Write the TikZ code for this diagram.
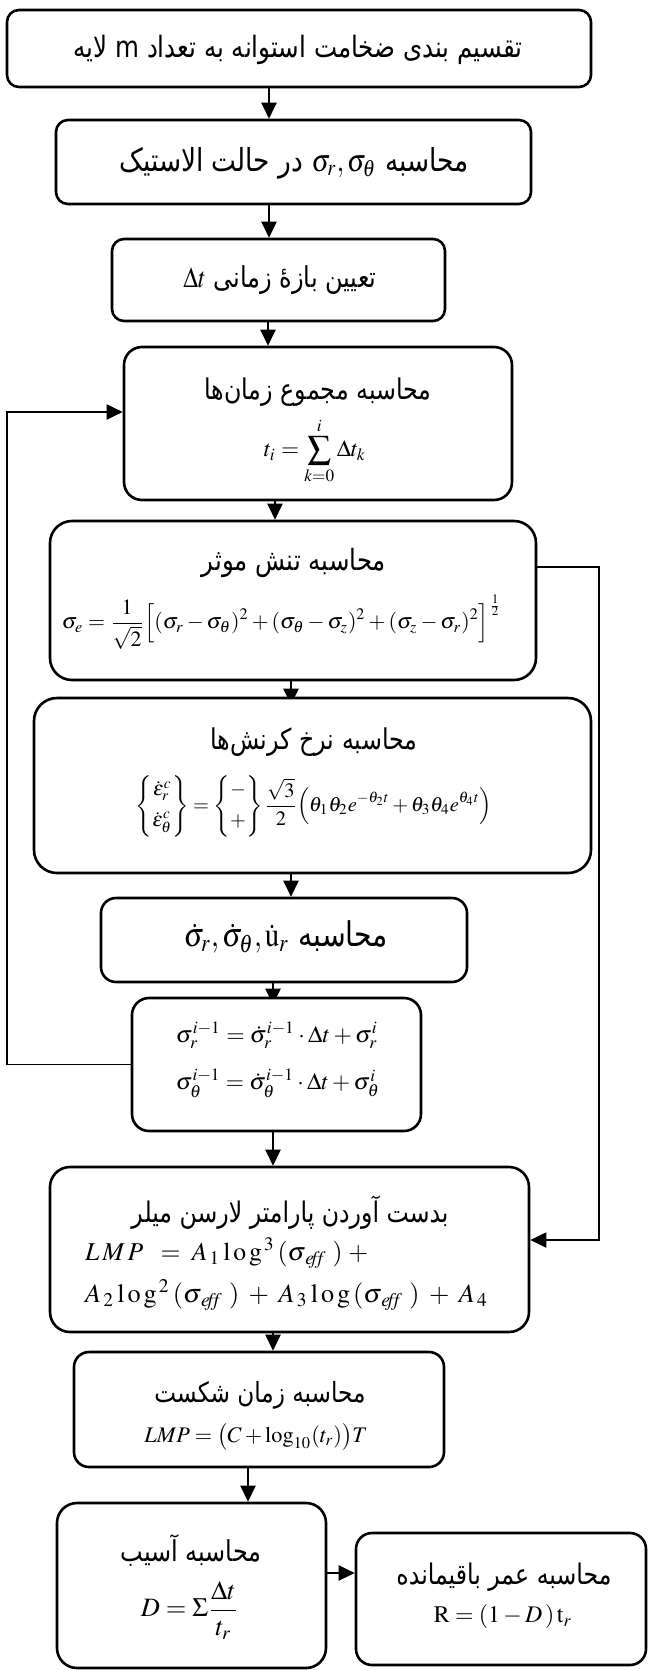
\documentclass[tikz,border=0pt]{standalone}
\usepackage{amsmath}
\usepackage{mathptmx}
\usepackage[no-math]{fontspec}
\usepackage{graphicx}
\usetikzlibrary{arrows.meta,backgrounds}
\newfontfamily\arabicfont[Script=Arabic]{DejaVu Sans}
\TeXXeTstate=1
\newcommand{\fitw}[2]{\resizebox{#1}{!}{#2}}
\newcommand{\fitt}[2]{\scalebox{1}[1.2]{\resizebox{#1}{!}{#2}}}
\newcommand{\fa}[1]{{\arabicfont\beginR #1\endR}}
\newcommand{\mth}[1]{\beginL$#1$\endL}
\begin{document}
\begin{tikzpicture}[x=1pt,y=-1pt,
  box/.style={draw,line width=2.6pt,rounded corners=#1,inner sep=0pt,fill=white},
  box/.default=12pt,
  lbl/.style={inner sep=0pt},
  arr/.style={line width=2.4pt,-{Triangle[length=16pt,width=15pt]}},
  backarr/.style={line width=1.9pt,-{Triangle[length=16pt,width=15pt]}}]
\useasboundingbox (0,0) rectangle (648,1670);

% boxes
\node[box=12pt,minimum width=584pt,minimum height=77pt]  (b1)  at (299,48.5) {};
\node[box=12pt,minimum width=475pt,minimum height=84pt]  (b2)  at (293.5,162) {};
\node[box=12pt,minimum width=333pt,minimum height=82pt]  (b3)  at (278.5,280) {};
\node[box=18pt,minimum width=388pt,minimum height=153pt] (b4)  at (318,423.5) {};
\node[box=22pt,minimum width=486pt,minimum height=159pt] (b5)  at (293,600.5) {};
\node[box=23pt,minimum width=557pt,minimum height=175pt] (b6)  at (312.5,785.5) {};
\node[box=15pt,minimum width=366pt,minimum height=84pt]  (b7)  at (284,940) {};
\node[box=17pt,minimum width=289pt,minimum height=133pt] (b8)  at (276.5,1064.5) {};
\node[box=20pt,minimum width=479pt,minimum height=165pt] (b9)  at (289.5,1249.5) {};
\node[box=15pt,minimum width=370pt,minimum height=115pt] (b10) at (259,1409.5) {};
\node[box=20pt,minimum width=269pt,minimum height=165pt] (b11) at (191.5,1585.5) {};
\node[box=16pt,minimum width=290pt,minimum height=132pt] (b12) at (501,1599) {};

% texts
\node[lbl] (t1) at (298,50) {\fitt{449pt}{\fa{تقسیم بندی ضخامت استوانه به تعداد m لایه}}};
\node[lbl] (t2) at (294,163) {\fitt{349pt}{\fa{محاسبه \mth{\sigma_r,\sigma_\theta} در حالت الاستیک}}};
\node[lbl] (t3) at (280,280) {\fitt{193pt}{\fa{تعیین بازهٔ زمانی \mth{\Delta t}}}};
\node[lbl] (t4) at (318,392) {\fitt{227pt}{\fa{محاسبه مجموع زمان‌ها}}};
\node[lbl] (f4) at (315,451) {\fitw{102pt}{$\displaystyle t_i=\sum_{k=0}^{i}\Delta t_k$}};
\node[lbl] (t5) at (294,563) {\fitt{184pt}{\fa{محاسبه تنش موثر}}};
\node[lbl] (f5) at (282,622) {\fitw{440pt}{$\displaystyle \sigma_e=\frac{1}{\sqrt{2}}\Big[(\sigma_r-\sigma_\theta)^2+(\sigma_\theta-\sigma_z)^2+(\sigma_z-\sigma_r)^2\Big]^{\frac{1}{2}}$}};
\node[lbl] (t6) at (314,742) {\fitt{207pt}{\fa{محاسبه نرخ کرنش‌ها}}};
\node[lbl] (f6) at (314,806) {\fitw{356pt}{$\displaystyle \begin{Bmatrix}\dot\varepsilon^c_r\\[3pt]\dot\varepsilon^c_\theta\end{Bmatrix}=\begin{Bmatrix}-\\[3pt]+\end{Bmatrix}\frac{\sqrt{3}}{2}\Big(\theta_1\theta_2e^{-\theta_2t}+\theta_3\theta_4e^{\theta_4t}\Big)$}};
\node[lbl] (t7) at (286,937) {\fitt{204pt}{\fa{محاسبه \mth{\dot\sigma_r,\dot\sigma_\theta,\dot{\mathrm{u}}_r}}}};
\node[lbl] (f8a) at (277,1035) {\fitw{202pt}{$\sigma_r^{i-1}=\dot\sigma_r^{i-1}\cdot\Delta t+\sigma_r^{i}$}};
\node[lbl] (f8b) at (278,1083) {\fitw{204pt}{$\sigma_\theta^{i-1}=\dot\sigma_\theta^{i-1}\cdot\Delta t+\sigma_\theta^{i}$}};
\node[lbl] (t9) at (290,1213) {\fitt{317pt}{\fa{بدست آوردن پارامتر لارسن میلر}}};
\node[lbl,anchor=west] (f9a) at (85,1253) {\fitw{283pt}{$L\,M\,P\;\;=\;A_{\,1}\,\mathrm{l\,o\,g}^{\,3}\,(\sigma_{\,\mathit{e\!f\!f}}\;)\;+$}};
\node[lbl,anchor=west] (f9b) at (85,1295) {\fitw{403pt}{$A_{\,2}\,\mathrm{l\,o\,g}^{\,2}\,(\sigma_{\,\mathit{e\!f\!f}}\;)\;+\;A_{\,3}\,\mathrm{l\,o\,g}\,(\sigma_{\,\mathit{e\!f\!f}}\;)\;+\;A_{\,4}$}};
\node[lbl] (t10) at (260,1395) {\fitt{211pt}{\fa{محاسبه زمان شکست}}};
\node[lbl] (f10) at (256,1437) {\fitw{223pt}{$LMP=\big(C+\log_{10}(t_r)\big)T$}};
\node[lbl] (t11) at (191,1550) {\fitt{141pt}{\fa{محاسبه آسیب}}};
\node[lbl] (f11) at (190,1610) {\fitw{98pt}{$\displaystyle D=\Sigma\frac{\Delta t}{t_r}$}};
\node[lbl] (t12) at (504,1577) {\fitt{215pt}{\fa{محاسبه عمر باقیمانده}}};
\node[lbl] (f12) at (503,1617) {\fitw{138pt}{$\mathrm{R}=(1-D\,)\,\mathrm{t}_r$}};

% helper coordinates
\coordinate (xa) at (269,0);
\coordinate (xb) at (268,0);
\coordinate (xc) at (275,0);
\coordinate (xd) at (291,0);
\coordinate (xe) at (273,0);
\coordinate (xf) at (248,0);
\coordinate (ya) at (0,1573);
\coordinate (L1) at (7,1064.5);
\coordinate (L2) at (7,412);
\coordinate (R1) at (599,567);
\coordinate (R2) at (599,1240);

\begin{scope}[on background layer]
\draw[arr] (b1.south -| xa) -- (b2.north -| xa);
\draw[arr] (b2.south -| xa) -- (b3.north -| xa);
\draw[arr] (b3.south -| xb) -- (b4.north -| xb);
\draw[arr] (b4.south -| xc) -- (b5.north -| xc);
\draw[arr,shorten >=-8pt] (b5.south -| xd) -- (b6.north -| xd);
\draw[arr] (b6.south -| xd) -- (b7.north -| xd);
\draw[arr,shorten >=-8pt] (b7.south -| xe) -- (b8.north -| xe);
\draw[arr] (b8.south -| xe) -- (b9.north -| xe);
\draw[arr] (b9.south -| xe) -- (b10.north -| xe);
\draw[arr] (b10.south -| xf) -- (b11.north -| xf);
\draw[arr] (b11.east |- ya) -- (b12.west |- ya);
\draw[backarr] (b8.west) -- (L1) -- (L2) -- (L2 -| b4.west);
\draw[backarr] (R1 -| b5.east) -- (R1) -- (R2) -- (R2 -| b9.east);
\end{scope}
\end{tikzpicture}
\end{document}
